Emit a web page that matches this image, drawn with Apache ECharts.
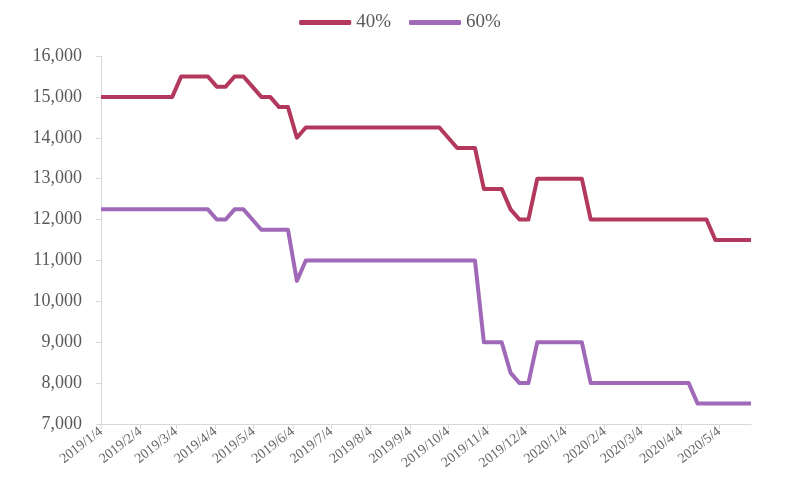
<!DOCTYPE html>
<html>
<head>
<meta charset="utf-8">
<script src="https://cdn.jsdelivr.net/npm/echarts@6/dist/echarts.min.js"></script>
<style>html,body{margin:0;padding:0;background:#fff}#chart{width:800px;height:500px}</style>
</head>
<body>
<div id="chart"></div>
<script>
// ---- data ----
const seriesNames = ['40%', '60%'];
const firstDate = '2019/1/4';
const lastDate = '2020/5/29';
// weekly observations (every Friday from 2019/1/4)
const values40 = [
  15000,15000,15000,15000,15000,15000,15000,15000,15000,
  15500,15500,15500,15500,
  15250,15250,
  15500,15500,
  15250,
  15000,15000,
  14750,14750,
  14000,
  14250,14250,14250,14250,14250,14250,14250,14250,14250,14250,14250,14250,14250,14250,14250,14250,
  14000,
  13750,13750,13750,
  12750,12750,12750,
  12250,
  12000,12000,
  13000,13000,13000,13000,13000,13000,
  12000,12000,12000,12000,12000,12000,12000,12000,12000,12000,12000,12000,12000,12000,
  11500,11500,11500,11500,11500
];
const values60 = [
  12250,12250,12250,12250,12250,12250,12250,12250,12250,12250,12250,12250,12250,
  12000,12000,
  12250,12250,
  12000,
  11750,11750,11750,11750,
  10500,
  11000,11000,11000,11000,11000,11000,11000,11000,11000,11000,11000,11000,11000,11000,11000,11000,11000,11000,11000,11000,
  9000,9000,9000,
  8250,
  8000,8000,
  9000,9000,9000,9000,9000,9000,
  8000,8000,8000,8000,8000,8000,8000,8000,8000,8000,8000,8000,
  7500,7500,7500,7500,7500,7500,7500
];
const yMin = 7000, yMax = 16000, yStep = 1000;

// ---- date helpers ----
function parseD(s){const p=s.split('/').map(Number);return Date.UTC(p[0],p[1]-1,p[2]);}
function fmt(t){const d=new Date(t);return d.getUTCFullYear()+'/'+(d.getUTCMonth()+1)+'/'+d.getUTCDate();}
const DAY = 86400000;
const dayCategories = [];
for (let t = parseD(firstDate); t <= parseD(lastDate); t += DAY) dayCategories.push(fmt(t));
const weekDates = values40.map((v,i)=>fmt(parseD(firstDate)+i*7*DAY));

const isTickDay = (idx, val) => /\/4$/.test(val);

const chart = echarts.init(document.getElementById('chart'));
const serif = '"Liberation Serif", "DejaVu Serif", serif';
chart.setOption({
  animation: false,
  backgroundColor: '#ffffff',
  color: ['#B3385E', '#A069B8'],
  legend: {
    data: seriesNames,
    top: 8,
    left: 'center',
    icon: 'roundRect',
    itemWidth: 52,
    itemHeight: 5,
    itemGap: 18,
    textStyle: { fontFamily: serif, fontSize: 19, color: '#595959' }
  },
  grid: { left: 101, right: 49, top: 56, bottom: 76, containLabel: false },
  xAxis: {
    type: 'category',
    data: dayCategories,
    boundaryGap: false,
    axisLine: { lineStyle: { color: '#D9D9D9', width: 1 } },
    axisTick: { show: true, interval: isTickDay, length: 5, lineStyle: { color: '#D9D9D9' } },
    axisLabel: {
      interval: isTickDay,
      rotate: 38,
      margin: 6,
      fontFamily: serif,
      fontSize: 14,
      color: '#666666'
    },
    splitLine: { show: false }
  },
  yAxis: {
    type: 'value',
    min: yMin,
    max: yMax,
    interval: yStep,
    axisLine: { show: true, lineStyle: { color: '#D9D9D9', width: 1 } },
    axisTick: { show: true, length: 5, lineStyle: { color: '#D9D9D9' } },
    splitLine: { show: false },
    axisLabel: {
      margin: 19,
      fontFamily: serif,
      fontSize: 18,
      color: '#595959',
      formatter: v => v.toLocaleString('en-US')
    }
  },
  series: [
    {
      name: seriesNames[0], type: 'line', symbol: 'none',
      lineStyle: { width: 4, join: 'round' },
      data: weekDates.map((d,i)=>[d, values40[i]])
    },
    {
      name: seriesNames[1], type: 'line', symbol: 'none',
      lineStyle: { width: 4, join: 'round' },
      data: weekDates.map((d,i)=>[d, values60[i]])
    }
  ]
});
</script>
</body>
</html>
